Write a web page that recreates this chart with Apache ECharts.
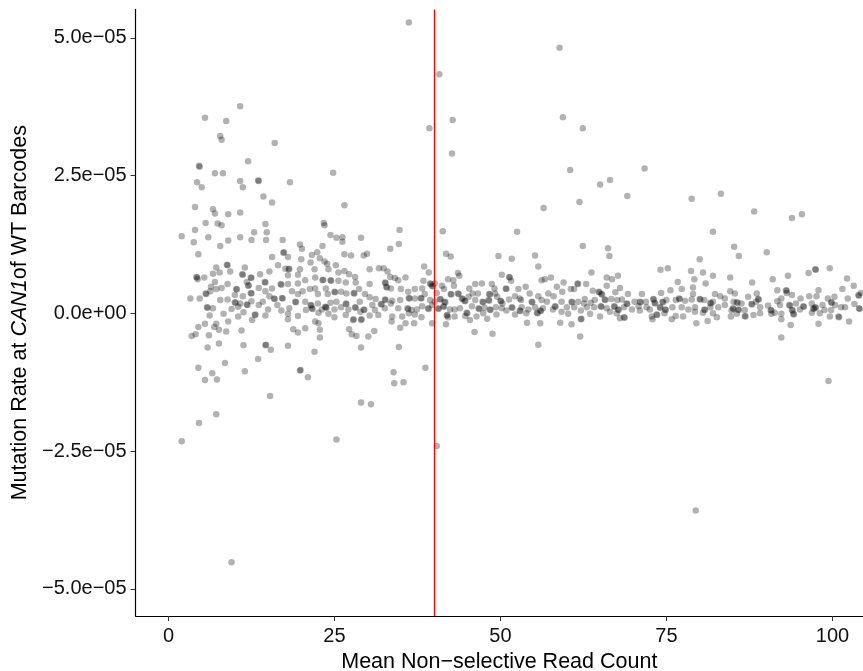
<!DOCTYPE html>
<html>
<head>
<meta charset="utf-8">
<script src="https://cdn.jsdelivr.net/npm/echarts@6/dist/echarts.min.js"></script>
<style>
  html, body { margin: 0; padding: 0; background: #fff; }
  #chart { width: 863px; height: 671px; }
</style>
</head>
<body>
<div id="chart"></div>
<script>
// Mutation rates are written in units of 1e-6 and scaled when the series is built.
const RATE_UNIT = 1e-6;
const readCountThreshold = 40;

const xTicks = [0, 25, 50, 75, 100];
const yTicks = [-5e-5, -2.5e-5, 0, 2.5e-5, 5e-5];
const yTickLabels = ['\u22125.0e\u221205', '\u22122.5e\u221205', '0.0e+00', '2.5e\u221205', '5.0e\u221205'];

// [mean non-selective read count, mutation rate (x1e-6)] for barcodes below the read-count cutoff
const belowThreshold = [
  [36.2,52.8],[39.3,33.6],[10.8,37.6],[5.5,35.5],[8.7,34.9],[7.8,32.2],[8.0,31.5],[16.0,30.9],[4.6,26.8],[4.7,26.6],
  [12.0,27.6],[7.0,25.4],[8.2,25.4],[24.8,25.5],[4.3,23.8],[5.0,22.9],[10.8,24.0],[13.5,24.1],[13.6,24.0],[11.2,22.9],
  [18.3,23.8],[14.3,21.2],
  [4.0,19.3],[6.7,18.9],[7.0,18.1],[9.0,18.0],[10.8,18.3],[15.6,20.1],[26.5,19.6],
  [6.6,-10.9],[5.5,-12.1],[7.3,-12.0],[11.5,-10.5],[19.8,-10.4],[19.9,-10.3],[21.0,-11.6],[15.3,-15.0],[33.9,-10.7],
  [34.0,-12.7],[35.4,-12.5],[38.7,-9.9],
  [2.0,-23.2],[4.6,-19.9],[7.2,-18.3],[9.5,-45.2],[25.3,-22.9],[29.0,-16.2],[30.5,-16.5],
  [5.6,16.4],[7.4,16.3],[8.0,16.0],[14.6,16.2],[4.0,15.1],[2.0,14.0],[6.0,13.8],[3.8,12.9],[9.0,13.2],[10.8,13.8],
  [12.5,13.3],[12.9,14.7],[14.8,14.7],[14.7,13.3],[7.8,12.2],[17.2,13.3],[4.5,10.7],[15.6,10.2],[17.3,11.0],[17.4,11.1],
  [16.5,8.7],[7.2,8.3],[8.8,8.8],[8.9,8.7],[9.3,7.6],[11.5,8.3],[7.7,7.4],[6.7,7.2],[4.2,6.6],[4.3,6.5],
  [5.4,6.5],[4.4,6.2],[7.0,5.7],[11.1,7.1],[11.2,7.0],[12.4,6.5],[12.5,6.4],[13.8,7.1],[15.2,7.6],[11.8,5.7],
  [8.9,5.3],[6.4,4.8],[8.0,4.6],[7.2,4.4],[10.2,4.4],[10.3,4.3],[12.0,5.0],[12.1,5.1],[14.5,5.7],[14.6,5.6],
  [15.6,4.5],[16.9,5.3],[17.0,5.2],[5.6,3.6],[5.7,3.5],[6.3,4.0],[4.7,2.7],[3.3,2.7],[7.8,2.4],[8.9,2.5],
  [10.0,3.3],[11.2,3.1],[12.4,3.7],[12.5,3.6],[13.6,4.6],[14.6,4.0],[10.0,2.0],[10.1,1.9],[10.8,1.8],[11.8,1.6],
  [11.9,1.5],[12.5,2.2],[14.2,2.1],[15.2,3.1],[15.9,2.7],[16.0,2.6],[17.1,2.8],[17.2,2.7],[16.4,1.5],[17.0,0.5],
  [13.6,1.5],[15.0,0.7],[5.8,1.1],[5.9,1.0],[6.7,0.9],[6.2,-0.4],[8.3,-0.1],[9.5,0.8],[10.5,1.2],[11.3,0.2],
  [13.0,-0.3],[13.1,-0.2],[14.6,-0.4],[10.5,-0.6],[12.6,-1.2],[9.0,-1.5],[7.2,-1.9],[5.5,-1.9],[4.5,-2.5],[6.9,-2.5],
  [7.6,-3.0],[8.7,-3.3],[11.0,-3.1],[6.1,-4.0],[4.1,-3.8],[3.5,-4.1],[5.9,-6.2],[7.6,-5.5],[11.3,-5.8],[14.6,-5.8],
  [14.7,-5.7],[15.4,-6.6],[4.5,-9.9],[8.5,-9.0],[13.5,-8.3],
  [23.4,16.4],[23.5,16.0],[24.4,14.2],[25.3,13.7],[26.2,13.8],[26.2,13.0],[29.0,13.7],[34.8,15.1],[34.7,12.6],[33.4,11.7],
  [19.8,12.5],[20.1,11.7],[23.2,12.2],[22.4,11.1],[21.6,10.6],[18.0,10.2],[20.0,9.8],[21.4,9.2],[22.8,10.0],[23.5,9.4],
  [23.9,9.0],[26.5,10.7],[27.5,10.5],[29.4,10.5],[29.9,10.8],[25.2,8.7],[24.1,8.0],[18.1,8.0],[18.2,8.1],[17.6,8.1],
  [19.8,8.0],[22.0,8.0],[18.0,6.9],[19.5,7.0],[20.6,6.0],[22.1,6.5],[23.2,6.0],[23.3,6.1],[24.4,6.0],[24.5,5.9],
  [25.6,7.4],[26.5,7.7],[27.2,7.1],[28.1,6.6],[25.6,5.9],[26.7,5.6],[28.2,5.6],[30.3,8.0],[31.7,8.2],[32.4,8.2],
  [33.0,7.6],[33.4,6.6],[34.1,6.4],[35.7,6.5],[34.6,6.0],[38.5,8.5],[39.2,7.4],[38.4,5.9],[39.4,5.4],[39.5,5.3],
  [39.7,5.0],[39.8,4.9],[30.3,5.3],[32.6,5.6],[32.7,5.5],[32.8,4.8],[32.9,4.7],[33.5,4.5],[35.0,4.4],[36.1,3.9],
  [37.1,4.4],[38.2,4.5],[38.6,3.5],[18.0,5.3],[18.6,4.0],[19.5,5.4],[20.2,4.0],[19.5,3.5],[21.3,4.4],[22.1,4.5],
  [22.5,3.5],[23.7,4.5],[25.0,3.9],[25.1,3.8],[24.0,3.5],[26.0,3.9],[26.8,3.6],[27.9,3.7],[28.0,3.6],[28.7,4.4],
  [29.6,3.5],[30.3,2.9],[31.2,2.6],[32.6,2.5],[32.7,2.4],[33.7,2.3],[34.9,2.4],[36.2,2.8],[36.3,2.7],[37.1,2.7],
  [38.0,2.8],[38.1,2.7],[39.4,2.4],[19.1,2.1],[19.2,2.0],[18.2,0.9],[20.6,2.1],[21.4,1.5],[21.5,1.4],[21.6,0.9],
  [21.7,0.8],[22.5,1.8],[23.1,0.7],[23.7,1.1],[23.8,1.0],[23.6,1.2],[24.4,1.9],[25.3,2.1],[25.0,0.7],[26.0,1.1],
  [26.7,1.8],[26.8,1.7],[27.1,0.7],[28.1,1.1],[28.2,1.0],[28.8,2.1],[29.4,0.7],[29.5,0.6],[28.9,0.3],[30.7,1.5],
  [31.1,0.6],[32.0,1.7],[32.1,1.6],[33.5,1.8],[32.6,0.9],[34.6,0.9],[36.0,0.9],[36.1,0.8],[36.6,0.6],[37.4,0.7],
  [38.2,1.3],[39.1,0.9],[39.2,0.8],[39.7,1.5],[18.0,-0.1],[19.5,-0.5],[20.7,0.6],[22.6,0.1],[24.1,-0.1],[25.0,-0.7],
  [26.7,-0.3],[27.8,-1.2],[27.9,-1.1],[29.0,-1.2],[29.1,-1.1],[30.3,-0.4],[31.6,-0.3],[33.7,-0.6],[35.2,-0.6],[36.2,0.0],
  [37.1,-0.2],[38.1,-0.7],[39.7,-1.8],[18.0,-1.1],[22.1,-1.5],[22.6,-1.8],[20.6,-2.7],[18.8,-2.9],[19.5,-3.5],[22.8,-3.0],
  [22.8,-4.4],[27.2,-2.9],[27.6,-3.8],[28.3,-4.1],[30.1,-4.2],[31.0,-3.2],[33.6,-1.5],[34.9,-2.6],[35.7,-1.8],[37.0,-1.8],
  [18.0,-5.9],[22.0,-7.0],[29.0,-6.2],[34.7,-6.1]
];

// Barcodes at or above the cutoff
const aboveThreshold = [
  [41.3,14.9],[52.5,14.8],[62.4,12.2],[41.8,10.8],[42.5,10.3],[49.7,10.4],[51.7,9.9],[55.2,10.5],[55.7,8.5],[43.6,7.3],
  [43.8,6.8],[42.1,6.2],[42.9,6.0],[40.1,5.4],[41.2,5.0],[41.5,4.4],[50.2,7.0],[51.3,6.6],[51.4,6.5],[51.6,5.9],
  [56.2,6.0],[56.7,6.2],[57.6,6.5],[46.2,5.3],[47.2,5.4],[48.7,5.3],[45.3,4.5],[43.0,5.0],[53.8,4.8],[52.7,4.4],
  [50.8,4.5],[50.9,4.4],[49.1,4.5],[59.5,5.6],[58.5,4.8],[61.6,5.4],[61.7,5.3],[61.1,4.4],[60.6,4.4],[40.4,3.7],
  [42.5,3.5],[42.6,3.4],[43.6,3.6],[43.7,3.5],[45.2,3.0],[45.8,3.6],[46.6,3.6],[48.3,3.5],[48.4,3.4],[49.2,3.6],
  [49.5,3.0],[52.2,3.1],[52.9,2.7],[54.4,3.6],[55.7,3.1],[57.2,3.6],[58.0,3.1],[59.3,3.9],[40.9,2.6],[41.0,2.5],
  [40.1,2.1],[41.6,2.1],[41.7,2.0],[44.2,2.7],[44.3,2.6],[44.6,2.3],[44.7,2.2],[46.2,2.4],[47.3,2.1],[47.4,2.0],
  [48.2,2.4],[48.3,2.3],[50.0,2.3],[50.1,2.2],[50.3,1.8],[51.3,2.5],[53.1,2.4],[54.7,2.1],[54.8,2.0],[56.2,2.4],
  [57.0,2.1],[58.2,1.3],[58.3,1.2],[59.2,2.1],[60.7,2.1],[60.8,2.0],[61.7,2.1],[62.6,1.8],[40.6,0.9],[40.7,0.8],
  [41.4,1.3],[41.5,1.2],[42.4,0.7],[43.1,0.7],[43.9,0.9],[45.7,1.3],[46.7,0.9],[46.8,0.8],[47.6,1.0],[48.4,0.7],
  [48.5,0.6],[49.3,1.1],[50.2,0.9],[51.7,1.1],[51.8,1.0],[53.2,1.1],[54.2,0.7],[55.2,1.1],[56.4,0.9],[57.9,0.7],
  [60.0,1.1],[61.1,1.1],[62.1,0.5],[41.9,-0.4],[42.0,-0.3],[42.1,-0.7],[43.1,-0.6],[44.9,0.1],[45.0,0.0],[44.7,-0.5],
  [46.4,-0.6],[47.4,0.0],[49.4,-0.2],[50.9,0.5],[52.2,-0.2],[52.9,0.5],[53.0,0.4],[53.9,0.0],[55.5,0.1],[55.6,0.0],
  [56.0,0.5],[56.1,0.4],[59.2,0.3],[60.2,-0.1],[62.1,-1.1],[62.2,-1.0],[45.4,-1.2],[48.0,-1.0],[54.0,-1.7],[56.0,-1.8],
  [59.0,-1.7],[60.7,-2.0],[41.8,-2.0],[46.1,-3.4],[48.8,-3.7],[62.0,-4.2],[55.7,-5.7],
  [82.0,14.8],[85.2,12.1],[66.2,11.8],[66.4,10.4],[80.0,9.8],[63.7,7.4],[66.0,6.5],[66.8,6.2],[67.7,6.8],[74.1,7.9],
  [75.2,8.2],[78.7,7.7],[80.5,7.4],[82.0,6.8],[84.6,6.5],[79.2,6.2],[62.9,5.3],[66.0,5.0],[68.0,4.6],[76.7,5.7],
  [77.3,4.4],[79.0,4.7],[80.9,5.4],[63.9,4.1],[64.8,3.9],[64.9,3.8],[65.2,3.5],[65.3,3.4],[67.3,3.8],[69.2,3.5],
  [71.3,3.5],[74.2,3.7],[75.6,4.2],[79.0,3.5],[82.3,3.5],[83.1,3.1],[84.6,4.0],[83.8,2.7],[62.7,2.6],[63.6,1.9],
  [64.2,2.4],[65.7,2.5],[65.8,2.4],[66.7,2.6],[67.6,2.4],[68.3,2.5],[69.0,1.8],[69.1,1.7],[70.2,2.1],[71.0,2.1],
  [71.1,2.0],[71.9,2.1],[73.0,2.6],[73.1,2.5],[73.2,1.9],[73.3,1.8],[74.4,2.1],[74.5,2.0],[75.0,2.4],[76.4,2.4],
  [76.9,2.7],[77.0,2.6],[77.8,2.3],[78.8,2.5],[80.0,2.6],[80.1,2.5],[80.7,2.4],[81.6,1.9],[81.7,1.8],[82.0,2.1],
  [85.1,2.1],[63.0,1.1],[64.1,1.1],[65.1,1.3],[65.2,1.2],[66.0,0.9],[67.1,1.3],[67.2,1.2],[67.7,0.7],[67.8,0.6],
  [68.6,1.1],[69.8,0.7],[70.8,1.3],[72.0,1.1],[72.5,0.7],[74.0,1.1],[74.1,1.0],[74.8,0.7],[74.9,0.6],[75.9,1.1],
  [77.3,1.1],[78.3,0.7],[79.3,1.1],[80.7,0.7],[80.8,0.6],[81.6,1.1],[82.8,1.1],[83.8,1.5],[85.0,0.9],[85.1,0.8],
  [63.5,-0.1],[65.0,-0.6],[66.5,0.3],[67.5,0.0],[68.6,-0.7],[68.7,-0.8],[71.0,0.5],[72.8,-0.6],[73.5,-0.2],[73.6,-0.3],
  [74.7,0.0],[76.4,-0.5],[77.5,-0.6],[79.3,0.3],[80.5,0.1],[82.0,0.0],[84.8,0.5],[84.7,-0.6],[68.0,-0.9],[72.9,-1.1],
  [75.8,-1.1],[79.5,-1.8],[81.2,-1.4],[82.6,-0.7],
  [85.9,10.4],[90.1,11.1],[93.3,6.8],[96.4,7.3],[97.4,8.0],[97.5,7.9],[99.6,8.2],[91.0,6.2],[102.2,6.3],[103.2,5.0],
  [87.9,5.6],[91.7,4.2],[93.0,4.2],[93.1,4.1],[97.9,4.2],[101.5,4.4],[85.3,3.6],[87.3,3.0],[88.6,3.6],[88.8,2.6],
  [88.9,2.5],[92.3,2.7],[93.1,3.7],[93.9,3.3],[95.2,2.7],[96.5,3.1],[97.6,3.1],[99.3,2.7],[100.3,3.0],[102.3,2.7],
  [103.9,3.3],[104.0,3.2],[104.3,3.7],[85.6,2.0],[85.7,1.9],[86.3,1.8],[87.8,1.7],[87.9,1.6],[88.5,2.1],[90.3,1.4],
  [91.7,2.2],[92.1,1.5],[93.5,1.5],[93.6,1.4],[94.5,1.8],[95.6,1.3],[95.7,1.2],[96.9,1.8],[97.4,1.1],[97.5,1.0],
  [98.5,1.5],[99.8,2.0],[99.9,1.9],[100.4,1.5],[101.3,1.1],[103.3,1.7],[85.8,0.7],[85.9,0.6],[86.8,0.6],[89.1,1.1],
  [90.7,0.6],[90.8,0.5],[91.3,0.1],[93.9,0.6],[94.0,0.5],[95.1,0.7],[97.1,0.9],[97.2,0.8],[98.8,0.6],[99.8,0.6],
  [101.9,1.1],[104.0,0.9],[104.1,0.8],[85.6,-0.1],[86.8,-0.5],[86.9,-0.6],[88.1,-0.3],[89.1,0.0],[90.8,-0.1],[92.3,-0.1],
  [94.1,-0.1],[94.2,-0.2],[96.9,0.1],[98.1,0.0],[99.6,-0.6],[100.9,-0.6],[101.0,-0.7],[92.3,-1.1],[93.7,-2.1],[97.9,-1.9],
  [102.5,-1.5],[92.3,-4.4],
  [40.8,43.4],[58.9,48.2],[42.8,35.1],[42.7,29.0],[59.4,35.6],[62.4,33.6],[60.5,26.0],[71.7,26.3],[65.0,23.4],[66.5,24.2],
  [69.1,21.3],[78.8,20.8],[83.2,21.7],[56.5,19.1],[61.9,20.2],[88.2,18.5],[93.9,17.3],[95.4,18.0],
  [40.4,-24.1],[79.4,-35.8],[99.4,-12.3]
];

const FONT = '"Liberation Sans", Arial, Helvetica, sans-serif';
const toSeriesData = pts => pts.map(p => [p[0], p[1] * RATE_UNIT]);

const chart = echarts.init(document.getElementById('chart'), null, { renderer: 'canvas' });

const pointStyle = { color: '#000', opacity: 0.3, borderWidth: 0 };

chart.setOption({
  animation: false,
  backgroundColor: '#fff',
  grid: { left: 135.6, right: 0, top: 9.4, bottom: 55, containLabel: false, outerBoundsMode: 'none' },
  xAxis: {
    type: 'value',
    min: -4.95,
    max: 104.6,
    name: 'Mean Non\u2212selective Read Count',
    nameLocation: 'middle',
    nameGap: 25,
    nameTextStyle: { fontFamily: FONT, fontSize: 21.5, color: '#000' },
    axisLine: { show: true, onZero: false, lineStyle: { color: '#000', width: 1.2 } },
    axisTick: { show: true, length: 5, customValues: xTicks, lineStyle: { color: '#333', width: 1 } },
    axisLabel: { customValues: xTicks, fontFamily: FONT, fontSize: 20, color: '#111', margin: 10 },
    splitLine: { show: false }
  },
  yAxis: {
    type: 'value',
    min: -54.94e-6,
    max: 55.16e-6,
    name: 'Mutation Rate at {i|CAN1}of WT Barcodes',
    nameLocation: 'middle',
    nameGap: 94,
    nameTextStyle: {
      fontFamily: FONT, fontSize: 21.5, color: '#000',
      rich: { i: { fontFamily: FONT, fontSize: 21.5, fontStyle: 'italic', color: '#000' } }
    },
    axisLine: { show: true, onZero: false, lineStyle: { color: '#000', width: 1.2 } },
    axisTick: { show: true, length: 5, customValues: yTicks, lineStyle: { color: '#333', width: 1 } },
    axisLabel: {
      customValues: yTicks,
      fontFamily: FONT, fontSize: 20, color: '#111', margin: 9,
      formatter: v => {
        const i = yTicks.findIndex(t => Math.abs(t - v) < 1e-12);
        return i >= 0 ? yTickLabels[i] : '';
      }
    },
    splitLine: { show: false }
  },
  series: [
    {
      name: 'below cutoff',
      type: 'scatter',
      silent: true,
      symbolSize: 6.5,
      itemStyle: pointStyle,
      data: toSeriesData(belowThreshold),
      markLine: {
        silent: true,
        symbol: ['none', 'none'],
        label: { show: false },
        lineStyle: { color: '#ff0000', type: 'solid', width: 1.3 },
        data: [{ xAxis: readCountThreshold }]
      }
    },
    {
      name: 'above cutoff',
      type: 'scatter',
      silent: true,
      symbolSize: 6.5,
      itemStyle: pointStyle,
      data: toSeriesData(aboveThreshold)
    }
  ]
});
</script>
</body>
</html>
